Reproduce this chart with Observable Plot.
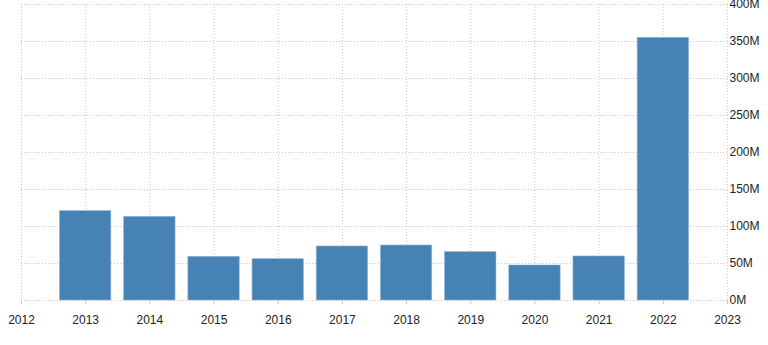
<!DOCTYPE html>
<html>
<head>
<meta charset="utf-8">
<script src="https://cdn.jsdelivr.net/npm/d3@7"></script>
<script src="https://cdn.jsdelivr.net/npm/@observablehq/plot@0.6"></script>
<style>
  html, body { margin: 0; padding: 0; background: #fff; }
  #chart svg { display: block; }
</style>
</head>
<body>
<div id="chart"></div>
<script>
const years = [2013, 2014, 2015, 2016, 2017, 2018, 2019, 2020, 2021, 2022];
const values = [120.7, 113, 59, 55.8, 73, 74.3, 65.3, 47.3, 59.5, 355]; // millions
const xTicks = [2012, 2013, 2014, 2015, 2016, 2017, 2018, 2019, 2020, 2021, 2022, 2023];
const yTicks = [0, 50, 100, 150, 200, 250, 300, 350, 400];

const data = years.map((year, i) => ({year, value: values[i]}));

const chart = Plot.plot({
  width: 768,
  height: 345,
  marginLeft: 21,
  marginRight: 41,
  marginTop: 4,
  marginBottom: 45,
  x: {domain: [2012, 2023]},
  y: {domain: [0, 400]},
  style: {fontFamily: "'Liberation Sans', Arial, sans-serif", fontSize: "12px", color: "#222", background: "#fff"},
  marks: [
    Plot.gridX(xTicks, {stroke: "#c8c8c8", strokeOpacity: 1, strokeDasharray: "1,2"}),
    Plot.gridY(yTicks, {stroke: "#c8c8c8", strokeOpacity: 1, strokeDasharray: "1,2"}),
    Plot.rectY(data, {x1: d => d.year - 0.4, x2: d => d.year + 0.4, y: "value", fill: "#4682b4", stroke: "#8fb3d6", strokeWidth: 0.6}),
    Plot.axisX(xTicks, {tickSize: 4, tickPadding: 10.5, tickFormat: d => String(d), stroke: "#c8c8c8", label: null}),
    Plot.axisY(yTicks, {anchor: "right", tickSize: 0, tickPadding: 2, tickFormat: d => d + "M", label: null})
  ]
});
document.getElementById("chart").appendChild(chart);
</script>
</body>
</html>
